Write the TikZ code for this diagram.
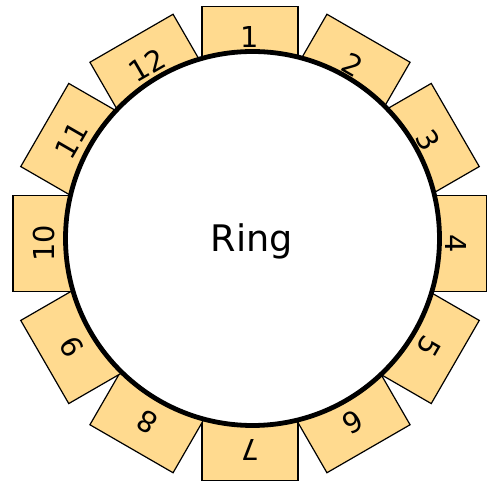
\documentclass[tikz,border=0pt]{standalone}
\usepackage{fontspec}
\setmainfont{DejaVu Sans}
\definecolor{boxfill}{HTML}{FFDA8F}
\begin{document}
\begin{tikzpicture}[x=1pt,y=1pt,
  boxshape/.style={draw=black, line width=1.2pt, fill=boxfill, rectangle,
    minimum width=96pt, minimum height=70pt, inner sep=0pt},
  numlabel/.style={inner sep=0pt, font=\fontsize{28.8}{30}\selectfont},
  ringshape/.style={draw=black, line width=4.8pt, fill=white, circle,
    minimum size=374pt, inner sep=0pt}]
\useasboundingbox (0,0) rectangle (487,482);
\coordinate (C) at (250,238.5);
\coordinate (RC) at (252.5,243.5);
\foreach \k in {1,...,12}{
  \pgfmathsetmacro\t{90-30*(\k-1)}
  \node[boxshape, rotate=\t-90] (b\k) at ([shift={(\t:202)}]C) {};
}
\node[ringshape] (ring) at (RC) {};
\node[anchor=base, inner sep=0pt, font=\fontsize{36.6}{40}\selectfont] (ringtext) at (252,230.3) {Ring};
\foreach \k in {1,...,12}{
  \pgfmathsetmacro\t{90-30*(\k-1)}
  \node[numlabel, rotate=\t-90] (l\k) at ([shift={(\t:206)}]C) {\k};
}
\end{tikzpicture}
\end{document}
